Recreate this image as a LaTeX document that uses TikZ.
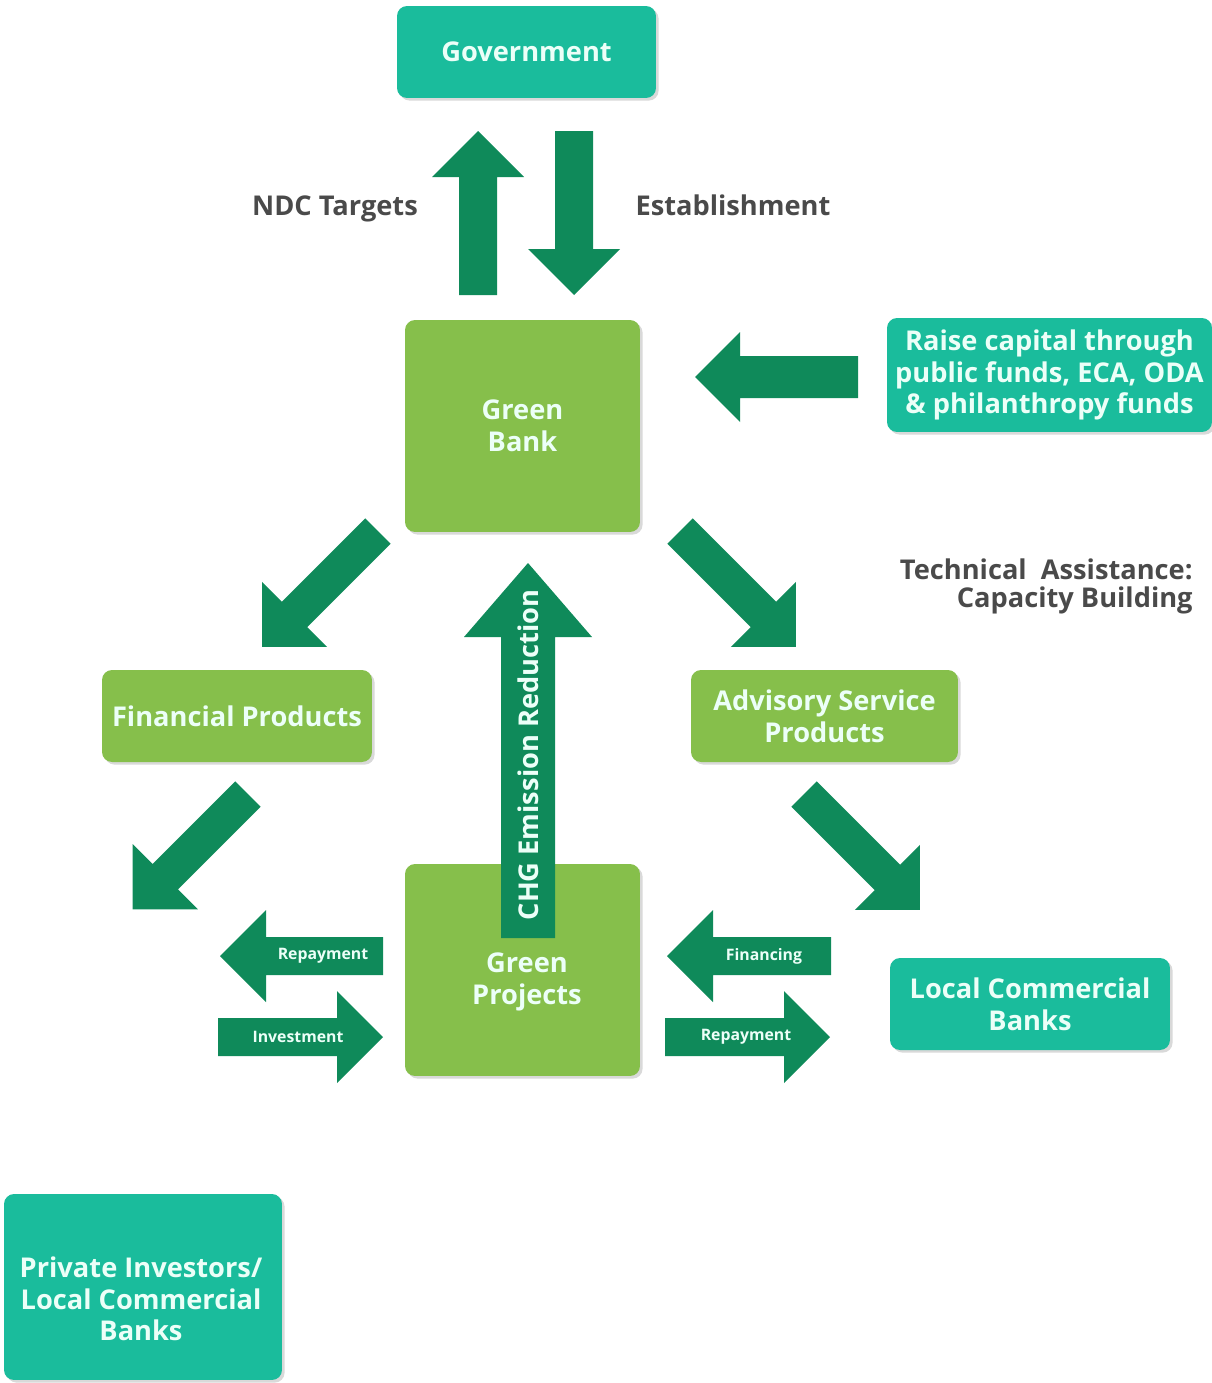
\documentclass[tikz,border=0pt]{standalone}
\usepackage{fontspec}
\setmainfont{Open Sans}
\usetikzlibrary{shadows}
\definecolor{turquoise}{HTML}{1ABC9C}
\definecolor{vertclair}{HTML}{86BF4B}
\definecolor{vertfonce}{HTML}{0F8A5A}
\definecolor{texteclair}{HTML}{ECFFF8}
\definecolor{gristexte}{HTML}{4A4A4A}

\begin{document}
\begin{tikzpicture}[x=0.02cm,y=-0.02cm]

\tikzset{texte/.style={text=texteclair,align=center,inner sep=0pt,
           font=\bfseries\fontsize{15.5}{18}\selectfont},
         boite/.style={texte,rounded corners=0.2cm,
           drop shadow={opacity=.3,shadow xshift=1.5pt,shadow yshift=-1.5pt}},
         bleu/.style={boite,fill=turquoise},
         vert/.style={boite,fill=vertclair},
         legende/.style={text=gristexte,align=right,inner sep=0pt,font=\bfseries\fontsize{15.5}{16}\selectfont},
         petit/.style={text=texteclair,inner sep=0pt,font=\bfseries\fontsize{9}{10}\selectfont},
         % fleche pleine : longueur / demi-largeur du corps / demi-largeur de la tete / longueur de la tete
         pics/fleche/.style args={#1/#2/#3/#4}{code={
           \fill[vertfonce] (0,-#2) -- ({#1-#4},-#2) -- ({#1-#4},-#3) -- (#1,0)
                            -- ({#1-#4},#3) -- ({#1-#4},#2) -- (0,#2) -- cycle;}}}

\useasboundingbox (0,0) rectangle (1212,1383);

%--------------------boites---------------------
\node[bleu,minimum width=5.18cm,minimum height=1.84cm] (gov) at (526.5,52) {Government};
\node[vert,minimum width=4.7cm,minimum height=4.24cm] (gb) at (522.5,426) {Green\\Bank};
\node[bleu,minimum width=6.5cm,minimum height=2.28cm] (raise) at (1049.5,375)
     {Raise capital through\\public funds, ECA, ODA\\\& philanthropy funds};
\node[vert,minimum width=5.4cm,minimum height=1.84cm] (fp) at (237,716) {Financial Products};
\node[vert,minimum width=5.34cm,minimum height=1.84cm] (adv) at (824.5,716) {Advisory Service\\Products};
\node[vert,minimum width=4.7cm,minimum height=4.24cm] (gp) at (522.5,970) {};
\node[texte] (gptxt) at (527,982) {Green\\Projects};
\node[bleu,minimum width=5.6cm,minimum height=1.84cm] (lcb) at (1030,1004) {Local Commercial\\Banks};
\node[bleu,minimum width=5.56cm,minimum height=3.72cm] (priv) at (143,1287) {};
\node[texte] (privtxt) at (141,1299) {Private Investors/\\Local Commercial\\Banks};

%--------------------fleches---------------------
\pic[rotate=90] at (478,295) {fleche=164/19/46/46};   % NDC
\pic[rotate=-90] at (574,131) {fleche=164/19/46/46};  % Establishment
\pic[rotate=180] at (858,377) {fleche=163/21/45/45};  % capital
\pic[rotate=-135] at (378,531) {fleche=164/18/46/46}; % vers Financial Products
\pic[rotate=-45] at (680,531) {fleche=164/18/46/46};  % vers Advisory
\pic[rotate=-135] at (248,794) {fleche=163/18/46/46};
\pic[rotate=-45] at (804,794) {fleche=164/18/46/46};

% Repayment / Investment
\pic[rotate=180] at (383,956) {fleche=163/19/46/46};
\pic at (218,1037) {fleche=165/19/46/46};
% Financing / Repayment
\pic[rotate=180] at (831,956) {fleche=164/19/46/46};
\pic at (665,1037) {fleche=165/19/46/46};

% CHG
\pic[rotate=90] at (528,938) {fleche=375/27/64/74};

%--------------------textes---------------------
\node[legende,anchor=base] (ndc) at (335,215) {NDC Targets};
\node[legende,anchor=base] (est) at (733,215) {Establishment};
\node[legende,anchor=east] (ta) at (1193,586) {Technical~~Assistance:\\Capacity Building};

\node[petit] (rep1) at (323,956) {Repayment};
\node[petit] (inv) at (298,1037) {Investment};
\node[petit] (fin) at (764,956) {Financing};
\node[petit] (rep2) at (746,1037) {Repayment};
\node[texte,rotate=90] (chg) at (528,755) {CHG Emission Reduction};

\end{tikzpicture}
\end{document}
